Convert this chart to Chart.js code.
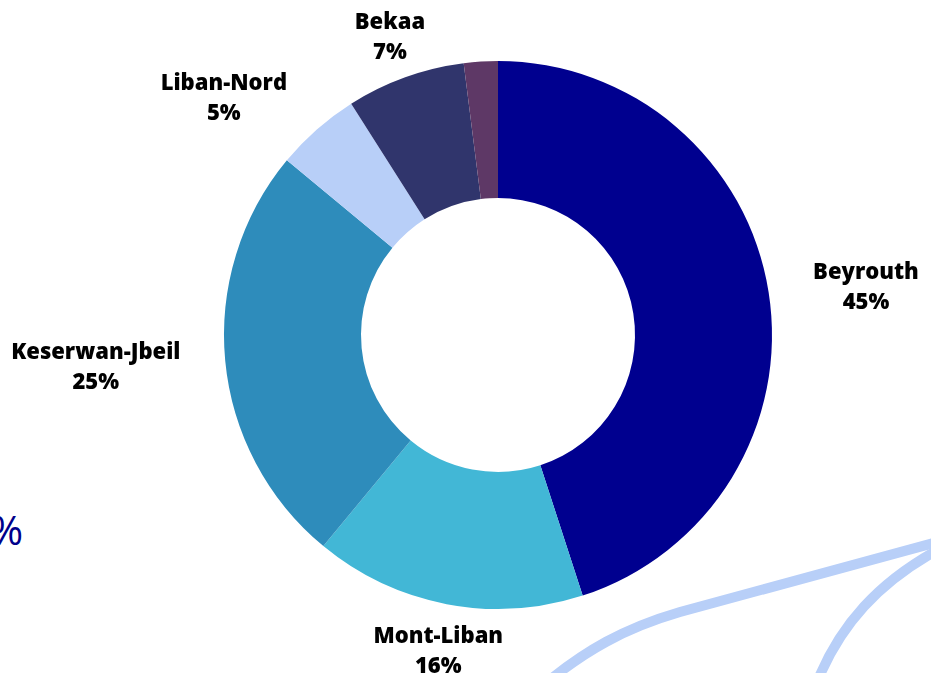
<!DOCTYPE html>
<html lang="fr">
<head>
  <meta charset="UTF-8" />
  <title>Répartition par région</title>
  <script src="https://cdn.jsdelivr.net/npm/chart.js"></script>
  <style>
    html, body { margin: 0; padding: 0; background: #fff; overflow: hidden; }
    #wrap { position: relative; width: 931px; height: 673px; }
    #deco { position: absolute; left: 0; top: 0; }
    #pct { position: absolute; left: -10px; top: 502px; font: 40px "Open Sans", sans-serif; color: #00008b; }
    #chartBox { position: absolute; left: 0; top: 0; width: 931px; height: 673px; }
  </style>
</head>
<body>
<div id="wrap">
  <svg id="deco" width="931" height="673">
    <path d="M 540 688 C 585 650, 625 628, 680 612 L 945 540" fill="none" stroke="#b8cff8" stroke-width="10" />
    <path d="M 814 690 C 838 625, 880 580, 945 546" fill="none" stroke="#b8cff8" stroke-width="10" />
  </svg>
  <div id="pct">%</div>
  <div id="chartBox"><canvas id="regionChart"></canvas></div>
</div>

<script>
const regions = ['Beyrouth', 'Mont-Liban', 'Keserwan-Jbeil', 'Liban-Nord', 'Bekaa', 'Autres'];
const shares = [45, 16, 25, 5, 7, 2];
const sliceColors = ['#00008f', '#42b7d6', '#2e8cbb', '#b8cff8', '#30356c', '#5e3866'];

// labels outside the ring, name on top and percentage below
const outsideLabels = {
  id: 'outsideLabels',
  afterDraw(chart) {
    const ctx = chart.ctx;
    const meta = chart.getDatasetMeta(0);
    const total = shares.reduce((a, b) => a + b, 0);
    ctx.save();
    ctx.font = '800 22px "Open Sans", sans-serif';
    ctx.fillStyle = '#000';
    ctx.textAlign = 'center';
    ctx.textBaseline = 'middle';
    meta.data.forEach((arc, i) => {
      const pct = Math.round(shares[i] / total * 100);
      if (pct < 3) return;
      const mid = (arc.startAngle + arc.endAngle) / 2;
      const dx = Math.cos(mid), dy = Math.sin(mid);
      const r = arc.outerRadius + 45;
      const w = ctx.measureText(regions[i]).width;
      let x = arc.x + dx * r;
      if (Math.abs(dx) > 0.5) x += Math.sign(dx) * w / 2;
      const y = arc.y + dy * r;
      ctx.fillText(regions[i], x, y - 12);
      ctx.fillText(pct + '%', x, y + 18);
    });
    ctx.restore();
  }
};

new Chart(document.getElementById('regionChart'), {
  type: 'doughnut',
  data: {
    labels: regions,
    datasets: [{
      data: shares,
      backgroundColor: sliceColors,
      borderWidth: 0
    }]
  },
  options: {
    responsive: true,
    maintainAspectRatio: false,
    animation: false,
    cutout: '50%',
    layout: { padding: { left: 224, right: 159, top: 61, bottom: 64 } },
    plugins: { legend: { display: false }, tooltip: { enabled: false } }
  },
  plugins: [outsideLabels]
});
</script>
</body>
</html>
